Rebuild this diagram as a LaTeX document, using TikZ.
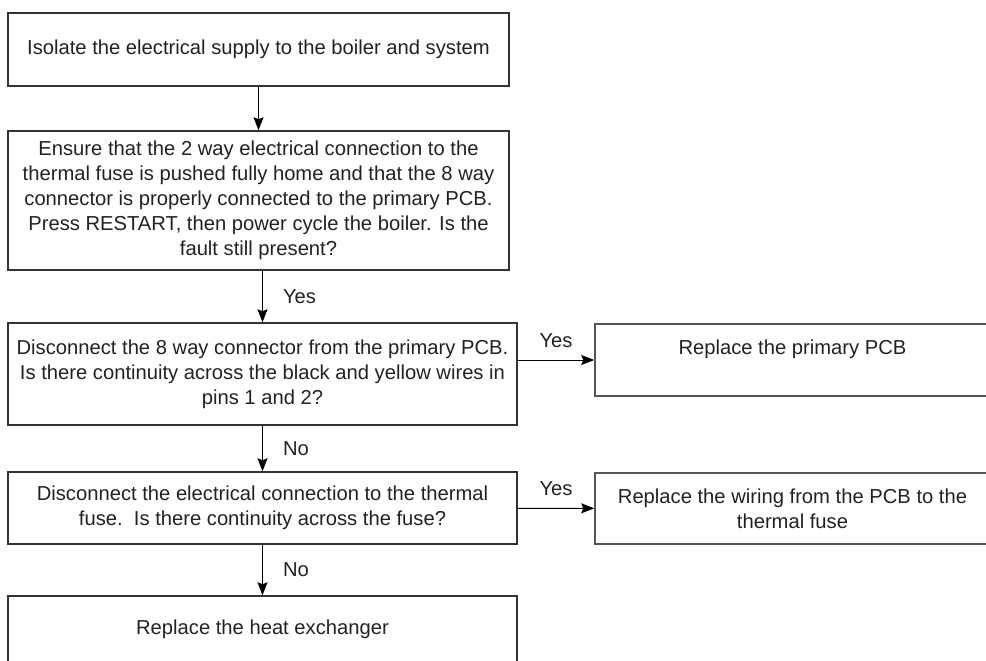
\documentclass[tikz,border=0pt]{standalone}
\usepackage{fontspec}
\setmainfont{Liberation Sans}
\usepackage{tikz}
\usetikzlibrary{
  arrows.meta,
  positioning
}
\definecolor{inkgray}{RGB}{34,34,34}
\definecolor{edgegray}{RGB}{51,51,51}
\definecolor{sidegray}{RGB}{85,85,85}
\tikzset{
  stepbox/.style={draw=edgegray, line width=0.75pt, fill=white, text=inkgray,
    align=center, inner sep=1pt, font=\fontsize{10.1}{12.5}\selectfont},
  sidebox/.style={stepbox, draw=sidegray},
  flow/.style={draw=black, line width=0.5pt, -{Stealth[length=6.5pt, width=5pt, inset=1pt]}},
  lbl/.style={text=inkgray, inner sep=1pt, font=\fontsize{10.1}{12.5}\selectfont}
}

\begin{document}
\begin{tikzpicture}[x=0.5pt, y=-0.5pt]
            \useasboundingbox (0,0) rectangle (986,660);
            \clip (0,0) rectangle (986,660);

            % Isolate box
            \node[stepbox, minimum width=250.5pt, minimum height=36.5pt] (isolate) at (258.5,49.5)
              {Isolate the electrical supply to the boiler and system};

            % Check connections box
            \node[stepbox, minimum width=250.5pt, minimum height=69.5pt] (ensure) at (258.5,200.5)
              {Ensure that the 2 way electrical connection to the\\
               thermal fuse is pushed fully home and that the 8 way\\
               connector is properly connected to the primary PCB.\\
               Press RESTART, then power cycle the boiler. Is the\\
               fault still present?};

            % Continuity at connector
            \node[stepbox, minimum width=254.5pt, minimum height=51pt] (pcbcheck) at (262.5,374)
              {Disconnect the 8 way connector from the primary PCB.\\
               Is there continuity across the black and yellow wires in\\
               pins 1 and 2?};
            \node[sidebox, minimum width=197.5pt, minimum height=36pt] (newpcb) at (792.5,360)
              {Replace the primary PCB\\ \mbox{}};

            % Continuity at fuse
            \node[stepbox, minimum width=254.5pt, minimum height=36pt] (fusecheck) at (262.5,508)
              {Disconnect the electrical connection to the thermal\\
               fuse.\ \ Is there continuity across the fuse?};
            \node[sidebox, minimum width=197.5pt, minimum height=35.5pt] (wiring) at (792.5,508.5)
              {Replace the wiring from the PCB to the\\ thermal fuse};

            % Last step
            \node[stepbox, minimum width=254.5pt, minimum height=44pt] (exchanger) at (262.5,640)
              {Replace the heat exchanger\\ \mbox{}};

            % Arrows
            \draw[flow] (isolate) -- (ensure);
            \draw[flow] (pcbcheck.north |- ensure.south) -- node[lbl, right=9pt]{Yes} (pcbcheck.north);
            \draw[flow] (pcbcheck.east |- newpcb.west) -- node[lbl, above=5pt]{Yes} (newpcb.west);
            \draw[flow] (pcbcheck) -- node[lbl, right=9pt]{No} (fusecheck);
            \draw[flow] (fusecheck) -- node[lbl, above=5pt]{Yes} (wiring);
            \draw[flow] (fusecheck) -- node[lbl, right=9pt]{No} (exchanger);
        \end{tikzpicture}
\end{document}
